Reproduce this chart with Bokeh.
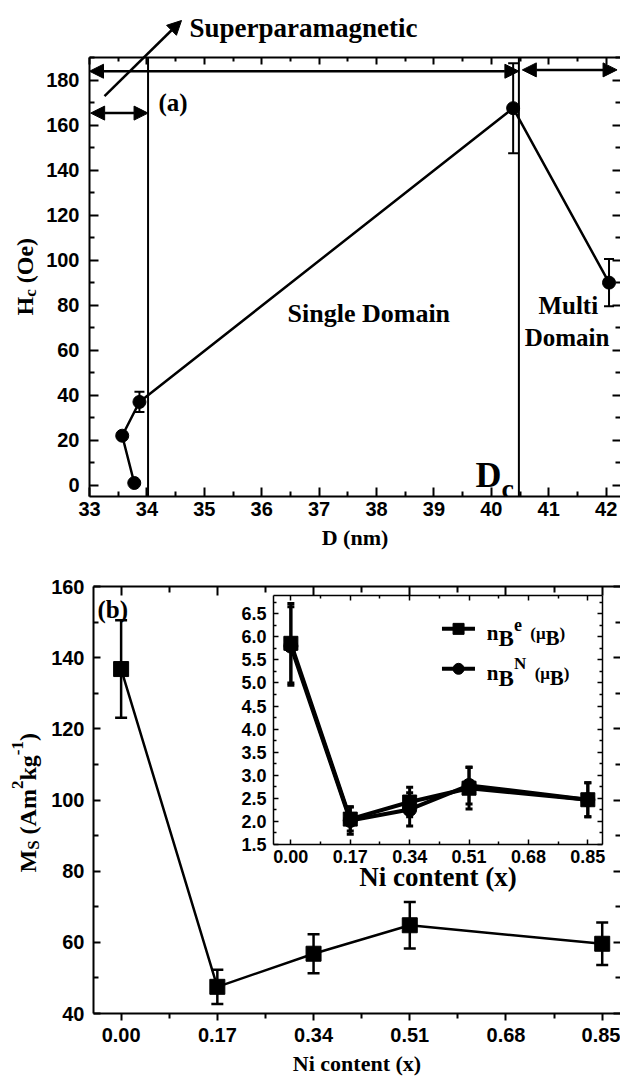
import math
from bokeh.plotting import figure
from bokeh.models import (Range1d, LinearAxis, FixedTicker, Span, Arrow, NormalHead,
                          Label, Whisker, TeeHead, ColumnDataSource, NumeralTickFormatter)
from bokeh.layouts import column
from bokeh.embed import file_html
from bokeh.resources import INLINE

# ---------------- data ----------------
D_nm = [33.78, 33.57, 33.87, 40.38, 42.05]
Hc_Oe = [1.0, 22.0, 37.0, 167.5, 90.0]
Hc_err = [0.0, 0.0, 4.5, 20.0, 10.5]

Ni_x = [0.00, 0.17, 0.34, 0.51, 0.85]
Ms = [136.8, 47.5, 56.8, 64.8, 59.6]
Ms_err = [13.7, 4.8, 5.5, 6.5, 6.0]

nB_e = [5.86, 2.05, 2.42, 2.72, 2.47]
nB_e_err = [0.86, 0.26, 0.32, 0.45, 0.37]
nB_N = [5.80, 2.02, 2.26, 2.78, 2.47]
nB_N_err = [0.85, 0.30, 0.36, 0.40, 0.37]

D_sp = 34.02   # superparamagnetic / single-domain limit
D_c = 40.48    # critical diameter

D_ticks = [33, 34, 35, 36, 37, 38, 39, 40, 41, 42]
D_tick_labels = ["33", "34", "35", "36", "37", "38", "39", "40", "41", "42"]
Hc_ticks = [0, 20, 40, 60, 80, 100, 120, 140, 160, 180]
Ni_ticks = [0.00, 0.17, 0.34, 0.51, 0.68, 0.85]
Ni_tick_labels = ["0.00", "0.17", "0.34", "0.51", "0.68", "0.85"]
Ms_ticks = [40, 60, 80, 100, 120, 140, 160]
nB_ticks = [1.5, 2.0, 2.5, 3.0, 3.5, 4.0, 4.5, 5.0, 5.5, 6.0, 6.5]
nB_tick_labels = ["1.5", "2.0", "2.5", "3.0", "3.5", "4.0", "4.5", "5.0", "5.5", "6.0", "6.5"]

SANS = "Liberation Sans"
SERIF = "Liberation Serif"
INK = "black"

def minors(ticks, n=2):
    step = ticks[1] - ticks[0]
    out = []
    for t in [ticks[0] - step] + list(ticks):
        for k in range(1, n):
            out.append(round(t + step * k / n, 6))
    return out

def setup_axis(ax, ticks, minor, labels=None, fmt=None, tin=9, tout=0, min_in=5, min_out=0,
               size="20px", standoff=8, show=True, line=True, lw=2):
    ax.ticker = FixedTicker(ticks=ticks, minor_ticks=minor)
    if fmt is not None:
        ax.formatter = NumeralTickFormatter(format=fmt)
    if not show:
        ax.major_label_overrides = {t: "" for t in ticks}
    elif labels is not None:
        ax.major_label_overrides = {t: l for t, l in zip(ticks, labels)}
    ax.axis_line_color = INK if line else None
    ax.axis_line_width = lw
    ax.major_tick_line_color = INK
    ax.minor_tick_line_color = INK
    ax.major_tick_line_width = lw
    ax.minor_tick_line_width = lw
    ax.major_tick_in = tin
    ax.major_tick_out = tout
    ax.minor_tick_in = min_in
    ax.minor_tick_out = min_out
    ax.major_label_text_font = SANS
    ax.major_label_text_font_style = "bold"
    ax.major_label_text_color = INK
    ax.major_label_text_font_size = size if show else "8px"
    ax.major_label_standoff = standoff if show else 0

def axis_title(ax, text, size, standoff):
    ax.axis_label = text
    ax.axis_label_text_font = SERIF
    ax.axis_label_text_font_style = "bold"
    ax.axis_label_text_font_size = size
    ax.axis_label_text_color = INK
    ax.axis_label_standoff = standoff

TW = {"H": .778, "c": .444, " ": .25, "(": .333, ")": .333, "O": .778, "e": .444,
      "M": .944, "S": .556, "A": .722, "m": .833, "2": .5, "k": .556, "g": .5,
      "-": .333, "1": .5, "n": .556, "B": .667, "N": .722, "μ": .556, "D": .722}

def tw(s):
    return sum(TW.get(ch, 0.5) for ch in s)

def rich(p, x, y, pieces, angle=0.0):
    """Text with sub/superscripts built from several labels sharing one anchor."""
    adv = 0.0
    ca, sa = math.cos(angle), math.sin(angle)
    for text, size, shift in pieces:
        lead = len(text) - len(text.lstrip(" "))
        adv += lead * 0.25 * size
        text = text.lstrip(" ")
        dx = adv * ca - shift * sa
        dy = adv * sa + shift * ca
        p.add_layout(Label(x=x, y=y, x_offset=dx, y_offset=dy, text=text, angle=angle,
                           text_font=SERIF, text_font_style="bold",
                           text_font_size=f"{size}px", text_color=INK,
                           text_align="left", text_baseline="alphabetic"))
        adv += tw(text) * size

def note(p, x, y, text, size):
    p.add_layout(Label(x=x, y=y, text=text, text_font=SERIF, text_font_style="bold",
                       text_font_size=size, text_color=INK, text_align="left",
                       text_baseline="alphabetic"))

def head():
    return NormalHead(size=14, fill_color=INK, line_color=INK, line_width=1)

# ---------------- (a) Hc vs D ----------------
p1 = figure(width=620, height=565, x_range=Range1d(33, 42.25), y_range=Range1d(-5, 190),
            output_backend="svg", toolbar_location=None, frame_align=False,
            min_border_left=89, min_border_right=0, min_border_top=57, min_border_bottom=69)
p1.grid.visible = False
p1.outline_line_color = None

setup_axis(p1.xaxis[0], D_ticks, minors(D_ticks), labels=D_tick_labels, tin=9, min_in=5, standoff=5)
axis_title(p1.xaxis[0], "D (nm)", "22px", 6)
setup_axis(p1.yaxis[0], Hc_ticks, minors(Hc_ticks), tin=9, min_in=5, standoff=10)
top1 = LinearAxis()
setup_axis(top1, D_ticks, minors(D_ticks), tin=7, min_in=4, show=False)
p1.add_layout(top1, "above")
right1 = LinearAxis()
setup_axis(right1, Hc_ticks, minors(Hc_ticks), tin=8, min_in=5, show=False, line=False)
p1.add_layout(right1, "right")

p1.add_layout(Span(location=D_sp, dimension="height", line_color=INK, line_width=2))
p1.add_layout(Span(location=D_c, dimension="height", line_color=INK, line_width=2))

src1 = ColumnDataSource(dict(x=D_nm, y=Hc_Oe,
                             lo=[v - e for v, e in zip(Hc_Oe, Hc_err)],
                             hi=[v + e for v, e in zip(Hc_Oe, Hc_err)]))
p1.line("x", "y", source=src1, line_color=INK, line_width=2.5)
p1.scatter("x", "y", source=src1, marker="circle", size=13, fill_color=INK, line_color=INK)
p1.add_layout(Whisker(base="x", upper="hi", lower="lo", source=src1, dimension="height",
                      line_color=INK, line_width=2,
                      upper_head=TeeHead(size=10, line_color=INK, line_width=2),
                      lower_head=TeeHead(size=10, line_color=INK, line_width=2)))

p1.add_layout(Arrow(x_start=33, y_start=183.9, x_end=D_c, y_end=183.9, start=head(), end=head(),
                    line_color=INK, line_width=2.5))
p1.add_layout(Arrow(x_start=40.54, y_start=184.5, x_end=42.19, y_end=184.5, start=head(), end=head(),
                    line_color=INK, line_width=2.5))
p1.add_layout(Arrow(x_start=33.02, y_start=165.3, x_end=D_sp, y_end=165.3, start=head(), end=head(),
                    line_color=INK, line_width=2.5))

note(p1, 34.20, 170.2, "(a)", "25px")
note(p1, 36.45, 76.2, "Single Domain", "26px")
note(p1, 40.82, 79.85, "Multi", "25px")
note(p1, 40.58, 65.8, "Domain", "25px")
rich(p1, 39.725, 4.77, [("D", 36, 0), ("c", 28, -14)])

# ---------------- (b) Ms vs Ni ----------------
p2 = figure(width=620, height=516, x_range=Range1d(-0.0488, 0.8823), y_range=Range1d(40, 160),
            output_backend="svg", toolbar_location=None, frame_align=False,
            min_border_left=93, min_border_right=0, min_border_top=21, min_border_bottom=68)
p2.grid.visible = False
p2.outline_line_color = None

setup_axis(p2.xaxis[0], Ni_ticks, minors(Ni_ticks), labels=Ni_tick_labels, fmt="0.00",
           tin=0, tout=7, min_in=0, min_out=5, standoff=7)
axis_title(p2.xaxis[0], "Ni content (x)", "22px", 6)
setup_axis(p2.yaxis[0], Ms_ticks, minors(Ms_ticks), tin=7, min_in=5, standoff=9)
top2 = LinearAxis()
setup_axis(top2, Ni_ticks, minors(Ni_ticks), tin=9, min_in=6, show=False)
p2.add_layout(top2, "above")
right2 = LinearAxis()
setup_axis(right2, Ms_ticks, minors(Ms_ticks), tin=7, min_in=5, show=False, line=False)
p2.add_layout(right2, "right")

src2 = ColumnDataSource(dict(x=Ni_x, y=Ms,
                             lo=[v - e for v, e in zip(Ms, Ms_err)],
                             hi=[v + e for v, e in zip(Ms, Ms_err)]))
p2.line("x", "y", source=src2, line_color=INK, line_width=2.5)
p2.scatter("x", "y", source=src2, marker="square", size=15, fill_color=INK, line_color=INK)
p2.add_layout(Whisker(base="x", upper="hi", lower="lo", source=src2, dimension="height",
                      line_color=INK, line_width=2.5,
                      upper_head=TeeHead(size=12, line_color=INK, line_width=2.5),
                      lower_head=TeeHead(size=12, line_color=INK, line_width=2.5)))
note(p2, -0.0417, 153.5, "(b)", "25px")

# ---------------- inset: nB vs Ni ----------------
p3 = figure(width=392, height=314, x_range=Range1d(-0.0497, 0.892), y_range=Range1d(1.5, 6.896),
            output_backend="svg", toolbar_location=None, frame_align=False,
            min_border_left=55, min_border_right=8, min_border_top=5, min_border_bottom=60,
            border_fill_alpha=0, background_fill_color="white",
            styles={"position": "absolute", "left": "218px", "top": "590px"})
p3.grid.visible = False
p3.outline_line_color = None

setup_axis(p3.xaxis[0], Ni_ticks, minors(Ni_ticks), labels=Ni_tick_labels, fmt="0.00",
           tin=5, min_in=3, size="18px", standoff=5, lw=1.5)
axis_title(p3.xaxis[0], "Ni content (x)", "27px", -4)
setup_axis(p3.yaxis[0], nB_ticks, minors(nB_ticks), labels=nB_tick_labels, fmt="0.0",
           tin=5, min_in=3, size="18px", standoff=7, lw=1.5)
top3 = LinearAxis()
setup_axis(top3, Ni_ticks, minors(Ni_ticks), tin=5, min_in=3, show=False, lw=1.5)
p3.add_layout(top3, "above")
right3 = LinearAxis()
setup_axis(right3, nB_ticks, minors(nB_ticks), tin=5, min_in=3, show=False, lw=1.5)
p3.add_layout(right3, "right")

src3 = ColumnDataSource(dict(x=Ni_x, e=nB_e, n=nB_N,
                             elo=[v - s for v, s in zip(nB_e, nB_e_err)],
                             ehi=[v + s for v, s in zip(nB_e, nB_e_err)],
                             nlo=[v - s for v, s in zip(nB_N, nB_N_err)],
                             nhi=[v + s for v, s in zip(nB_N, nB_N_err)]))
for ycol, lo, hi, mk in (("e", "elo", "ehi", "square"), ("n", "nlo", "nhi", "circle")):
    p3.line("x", ycol, source=src3, line_color=INK, line_width=4)
    p3.scatter("x", ycol, source=src3, marker=mk, size=14, fill_color=INK, line_color=INK)
    p3.add_layout(Whisker(base="x", upper=hi, lower=lo, source=src3, dimension="height",
                          line_color=INK, line_width=3,
                          upper_head=TeeHead(size=7, line_color=INK, line_width=3),
                          lower_head=TeeHead(size=7, line_color=INK, line_width=3)))

# legend (drawn in inset data space)
leg_y = [6.173, 5.307]
leg_mk = ["square", "circle"]
for ly, mk in zip(leg_y, leg_mk):
    p3.line([0.4325, 0.527], [ly, ly], line_color=INK, line_width=4)
    p3.scatter([0.48], [ly], marker=mk, size=11, fill_color=INK, line_color=INK)
rich(p3, 0.561, 6.078, [("n", 21, 0), ("B", 23, -5), ("e", 18, 9), ("  (", 17, 0),
                        ("μ", 17, 0), ("B", 21, -5), (")", 17, 0)])
rich(p3, 0.561, 5.212, [("n", 21, 0), ("B", 23, -5), ("N", 17, 10), ("  (", 17, 0),
                        ("μ", 17, 0), ("B", 21, -5), (")", 17, 0)])

# ---------------- page overlay for texts outside the plot frames (pixel space) ----------------
ov = figure(width=620, height=1081, x_range=Range1d(0, 620), y_range=Range1d(1081, 0),
            output_backend="svg", toolbar_location=None, frame_align=False,
            x_axis_location=None, y_axis_location=None,
            min_border_left=0, min_border_right=0, min_border_top=0, min_border_bottom=0,
            background_fill_alpha=0, border_fill_alpha=0,
            styles={"position": "absolute", "left": "0px", "top": "0px", "pointer-events": "none"})
ov.grid.visible = False
ov.outline_line_color = None
ov.add_layout(Arrow(x_start=104, y_start=95.7, x_end=181, y_end=20, end=head(),
                    line_color=INK, line_width=2.5))
note(ov, 189, 27.3, "Superparamagnetic", "27px")
rich(ov, 24, 315, [("H", 24, 0), ("c", 17, -6), (" (Oe)", 24, 0)], angle=math.pi / 2)
rich(ov, 27, 872, [("M", 24, 0), ("S", 17, -6), (" (Am", 24, 0), ("2", 17, 10),
                   ("kg", 24, 0), ("-1", 17, 10), (")", 24, 0)], angle=math.pi / 2)

root = column(p1, p2, p3, ov, spacing=0)
open("out.html", "w").write(file_html(root, INLINE))
